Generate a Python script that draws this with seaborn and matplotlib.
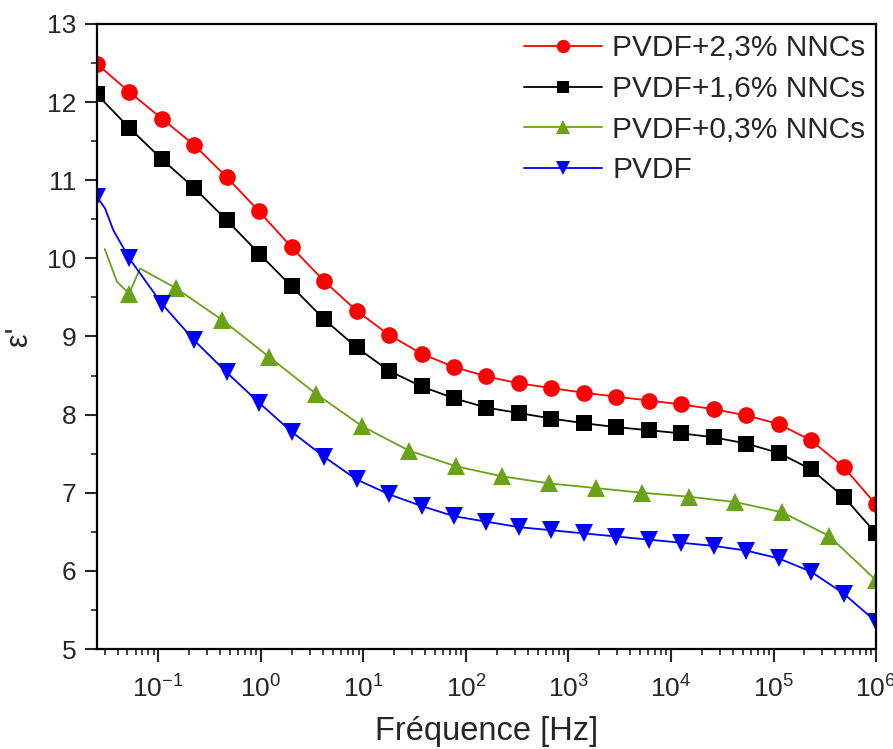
import numpy as np
import matplotlib
matplotlib.use("Agg")
import matplotlib.pyplot as plt
import matplotlib.ticker as mticker
import seaborn as sns

# frequencies (Hz) of the marked points, red/black/blue series
freq = [0.0251, 0.0521, 0.108, 0.224, 0.464, 0.963, 2.00, 4.14, 8.58, 17.8,
        36.9, 76.4, 158, 329, 681, 1413, 2929, 6072, 12590, 26100,
        54100, 112200, 232600, 482300, 1e6]

eps_23 = [12.49, 12.13, 11.79, 11.45, 11.04, 10.60, 10.14, 9.71, 9.33, 9.02,
          8.78, 8.61, 8.49, 8.40, 8.34, 8.28, 8.23, 8.18, 8.13, 8.07,
          7.99, 7.88, 7.67, 7.33, 6.85]
eps_16 = [12.10, 11.67, 11.27, 10.90, 10.49, 10.06, 9.64, 9.22, 8.86, 8.56,
          8.36, 8.21, 8.09, 8.02, 7.95, 7.89, 7.84, 7.80, 7.76, 7.71,
          7.63, 7.51, 7.30, 6.95, 6.48]

# PVDF: two extra line-only points near the start
freq_pvdf = [0.0251, 0.0302, 0.0364, 0.0521, 0.108, 0.224, 0.464, 0.963, 2.00, 4.14,
             8.58, 17.8, 36.9, 76.4, 158, 329, 681, 1413, 2929, 6072,
             12590, 26100, 54100, 112200, 232600, 482300, 1e6]
eps_pvdf = [10.79, 10.64, 10.36, 10.00, 9.42, 8.95, 8.54, 8.15, 7.78, 7.46,
            7.17, 6.98, 6.83, 6.70, 6.63, 6.56, 6.52, 6.48, 6.44, 6.40,
            6.36, 6.32, 6.26, 6.16, 5.99, 5.71, 5.35]
mark_pvdf = [0] + list(range(3, 27))

# PVDF+0,3%: line starts without markers
freq_03 = [0.030, 0.0395, 0.0518, 0.0664, 0.1476, 0.421, 1.20, 3.42, 9.75, 27.8,
           79.3, 226, 644, 1837, 5236, 14930, 42560, 121300, 345900, 1e6]
eps_03 = [10.12, 9.70, 9.55, 9.87, 9.62, 9.21, 8.74, 8.27, 7.85, 7.54,
          7.34, 7.21, 7.12, 7.06, 7.00, 6.95, 6.88, 6.75, 6.45, 5.88]
mark_03 = [2] + list(range(4, 20))

sns.set_style("ticks")
plt.rcParams['font.family'] = ['Liberation Sans', 'DejaVu Sans']
plt.rcParams['mathtext.default'] = 'regular'
plt.rcParams['axes.unicode_minus'] = False

fig = plt.figure(figsize=(8.93, 7.49), dpi=100)
ax = fig.add_axes([0.1086, 0.1335, 0.8724, 0.8345])

lw = 1.3
sns.lineplot(x=freq, y=eps_23, ax=ax, color='#FF0000', marker='o', markersize=12,
             markeredgewidth=0, linewidth=lw, sort=False, label='PVDF+2,3% NNCs')
sns.lineplot(x=freq, y=eps_16, ax=ax, color='black', marker='s', markersize=11,
             markeredgewidth=0, linewidth=lw, sort=False, label='PVDF+1,6% NNCs')
sns.lineplot(x=freq_03, y=eps_03, ax=ax, color='#6AA21A', marker='^', markersize=13,
             markeredgewidth=0, linewidth=lw, sort=False, markevery=mark_03,
             label='PVDF+0,3% NNCs')
sns.lineplot(x=freq_pvdf, y=eps_pvdf, ax=ax, color='#0000FF', marker='v', markersize=13,
             markeredgewidth=0, linewidth=lw, sort=False, markevery=mark_pvdf,
             label='PVDF')

ax.set_xscale('log')
ax.set_xlim(0.0252, 1e6)
ax.set_ylim(5, 13)
ax.xaxis.set_major_locator(mticker.LogLocator(base=10, numticks=12))
ax.xaxis.set_minor_locator(mticker.LogLocator(base=10, subs=np.arange(2, 10), numticks=12))
ax.xaxis.set_minor_formatter(mticker.NullFormatter())
ax.yaxis.set_major_locator(mticker.MultipleLocator(1))
ax.yaxis.set_minor_locator(mticker.MultipleLocator(0.5))

for s in ax.spines.values():
    s.set_linewidth(1.6)
    s.set_color('black')
ax.tick_params(which='major', direction='out', length=9, width=1.5, labelsize=19, pad=6)
ax.tick_params(which='minor', direction='out', length=4.5, width=1.2)
ax.tick_params(axis='x', which='major', pad=10)

ax.set_xlabel('Fréquence [Hz]', fontsize=23.5, labelpad=10)
ax.set_ylabel("ε'", fontsize=22, labelpad=9)

leg = ax.legend(loc='upper right', frameon=False, fontsize=21.5, markerscale=0.8,
                handlelength=2.6, handletextpad=0.35, labelspacing=0.42,
                borderaxespad=0.15, borderpad=0.2)

fig.savefig('out.png', dpi=100)
